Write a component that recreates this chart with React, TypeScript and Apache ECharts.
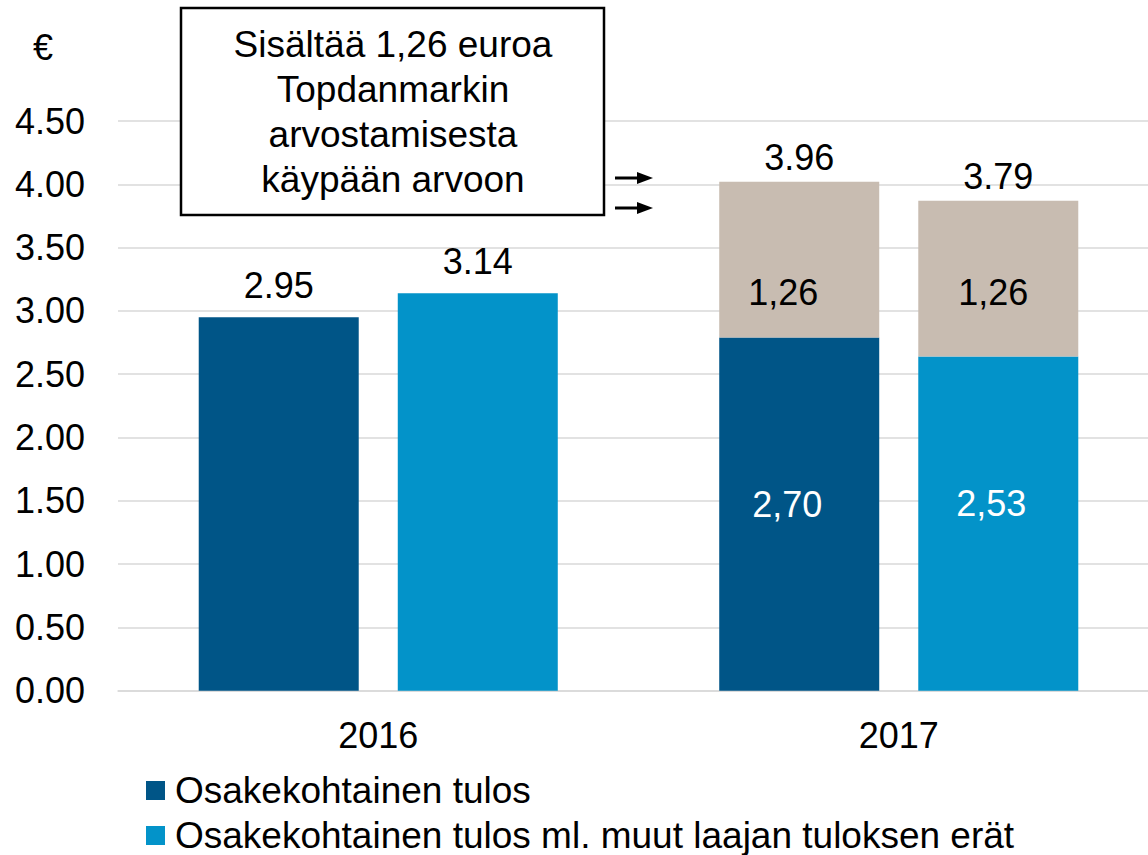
import React, { useEffect, useRef } from "react";
import * as echarts from "echarts";

const categories = ["2016", "2017"];
const yTicks = { min: 0, max: 4.5, interval: 0.5 };

// bar heights as drawn in the picture
const epsValues = [2.95, 2.79];
const epsCompValues = [3.14, 2.64];
const topdanmarkOnEps = [null, 1.23];
const topdanmarkOnComp = [null, 1.23];

// label texts as printed
const epsLabels = ["2.95", "2,70"];
const epsCompLabels = ["3.14", "2,53"];
const topdanmarkLabels = ["", "1,26"];
const epsTotalLabels = ["", "3.96"];
const epsCompTotalLabels = ["", "3.79"];

const seriesNames = [
  "Osakekohtainen tulos",
  "Osakekohtainen tulos ml. muut laajan tuloksen erät",
];
const annotationLines = [
  "Sisältää 1,26 euroa",
  "Topdanmarkin",
  "arvostamisesta",
  "käypään arvoon",
];

const FONT = '"Liberation Sans", Arial, sans-serif';
const DARK = "#005587";
const LIGHT = "#0393C9";
const GRAY = "#C8BCB1";

export default function App() {
  const ref = useRef<HTMLDivElement>(null);

  useEffect(() => {
    if (!ref.current) return;
    const chart = echarts.init(ref.current, null, { renderer: "svg" });

    const baseItems = (vals: number[], labels: string[], insideOffsets: number[][]) =>
      vals.map((v, i) =>
        i === 0
          ? {
              value: v,
              label: {
                show: true,
                position: "top",
                distance: 14,
                color: "#000",
                formatter: labels[i],
              },
            }
          : {
              value: v,
              label: {
                show: true,
                position: "inside",
                offset: insideOffsets[i],
                color: "#fff",
                formatter: labels[i],
              },
            }
      );

    const grayItems = (vals: (number | null)[], offset: number[]) =>
      vals.map((v, i) =>
        v == null
          ? "-"
          : {
              value: v,
              label: {
                show: true,
                position: "inside",
                offset,
                color: "#000",
                formatter: topdanmarkLabels[i],
              },
            }
      );

    const capItems = (vals: (number | null)[], labels: string[]) =>
      vals.map((v, i) =>
        v == null
          ? "-"
          : {
              value: 0,
              label: {
                show: true,
                position: "top",
                distance: 6,
                color: "#000",
                formatter: labels[i],
              },
            }
      );

    const legendBase = {
      orient: "vertical",
      left: 146,
      padding: 0,
      icon: "rect",
      itemWidth: 19,
      itemHeight: 19,
      textStyle: { fontSize: 37, color: "#000", fontFamily: FONT, padding: [0, 0, 0, 5] },
    };

    const option: any = {
      animation: false,
      backgroundColor: "#fff",
      textStyle: { fontFamily: FONT, fontSize: 36, color: "#000" },
      grid: {
        left: 118,
        width: 1041,
        top: 121,
        bottom: 164.3,
        containLabel: false,
        outerBoundsMode: "none",
      },
      xAxis: {
        type: "category",
        data: categories,
        axisLine: { show: true, lineStyle: { color: "#d9d9d9", width: 1.5 } },
        axisTick: { show: false },
        axisLabel: { margin: 27, fontSize: 36, color: "#000", fontFamily: FONT },
      },
      yAxis: {
        type: "value",
        min: yTicks.min,
        max: yTicks.max,
        interval: yTicks.interval,
        axisLine: { show: false },
        axisTick: { show: false },
        splitLine: { show: true, lineStyle: { color: "#d9d9d9", width: 1.5 } },
        axisLabel: {
          margin: 33,
          fontSize: 36,
          color: "#000",
          fontFamily: FONT,
          formatter: (v: number) => v.toFixed(2),
        },
      },
      legend: [
        { ...legendBase, top: 772, data: [seriesNames[0]] },
        { ...legendBase, top: 817, data: [seriesNames[1]] },
      ],
      series: [
        {
          name: seriesNames[0],
          type: "bar",
          stack: "a",
          barWidth: 160,
          barGap: "24.4%",
          itemStyle: { color: DARK },
          label: { fontSize: 36, fontFamily: FONT },
          data: baseItems(epsValues, epsLabels, [[0, 0], [-12, -10]]),
        },
        {
          name: seriesNames[1],
          type: "bar",
          stack: "b",
          barWidth: 160,
          barGap: "24.4%",
          itemStyle: { color: LIGHT },
          label: { fontSize: 36, fontFamily: FONT },
          data: baseItems(epsCompValues, epsCompLabels, [[0, 0], [-7, -20]]),
        },
        {
          name: "Topdanmark A",
          type: "bar",
          stack: "a",
          barWidth: 160,
          itemStyle: { color: GRAY },
          label: { fontSize: 36, fontFamily: FONT },
          data: grayItems(topdanmarkOnEps, [-16, 33]),
        },
        {
          name: "Topdanmark B",
          type: "bar",
          stack: "b",
          barWidth: 160,
          itemStyle: { color: GRAY },
          label: { fontSize: 36, fontFamily: FONT },
          data: grayItems(topdanmarkOnComp, [-5, 14]),
        },
        {
          name: "Total A",
          type: "bar",
          stack: "a",
          barWidth: 160,
          itemStyle: { color: "rgba(0,0,0,0)" },
          label: { fontSize: 36, fontFamily: FONT },
          data: capItems(topdanmarkOnEps, epsTotalLabels),
        },
        {
          name: "Total B",
          type: "bar",
          stack: "b",
          barWidth: 160,
          itemStyle: { color: "rgba(0,0,0,0)" },
          label: { fontSize: 36, fontFamily: FONT },
          data: capItems(topdanmarkOnComp, epsCompTotalLabels),
        },
      ],
      graphic: [
        {
          type: "text",
          x: 43,
          y: 47,
          z: 100,
          style: {
            text: "€",
            fontSize: 36,
            fontFamily: FONT,
            fill: "#000",
            textAlign: "center",
            textVerticalAlign: "middle",
          },
        },
        {
          type: "rect",
          z: 100,
          shape: { x: 181, y: 8, width: 423, height: 207 },
          style: { fill: "#fff", stroke: "#000", lineWidth: 2.5 },
        },
        {
          type: "text",
          x: 393,
          y: 112,
          z: 101,
          style: {
            text: annotationLines.join("\n"),
            fontSize: 37,
            fontFamily: FONT,
            lineHeight: 45,
            fill: "#000",
            textAlign: "center",
            textVerticalAlign: "middle",
          },
        },
        {
          type: "line",
          z: 100,
          shape: { x1: 615, y1: 178, x2: 640, y2: 178 },
          style: { stroke: "#000", lineWidth: 3 },
        },
        {
          type: "polygon",
          z: 100,
          shape: { points: [[637, 172], [653, 178], [637, 184]] },
          style: { fill: "#000" },
        },
        {
          type: "line",
          z: 100,
          shape: { x1: 615, y1: 208, x2: 640, y2: 208 },
          style: { stroke: "#000", lineWidth: 3 },
        },
        {
          type: "polygon",
          z: 100,
          shape: { points: [[637, 202], [653, 208], [637, 214]] },
          style: { fill: "#000" },
        },
      ],
    };

    chart.setOption(option);
    return () => chart.dispose();
  }, []);

  return (
    <div
      ref={ref}
      style={{ position: "absolute", left: 0, top: 0, width: 1148, height: 855, background: "#fff" }}
    />
  );
}
